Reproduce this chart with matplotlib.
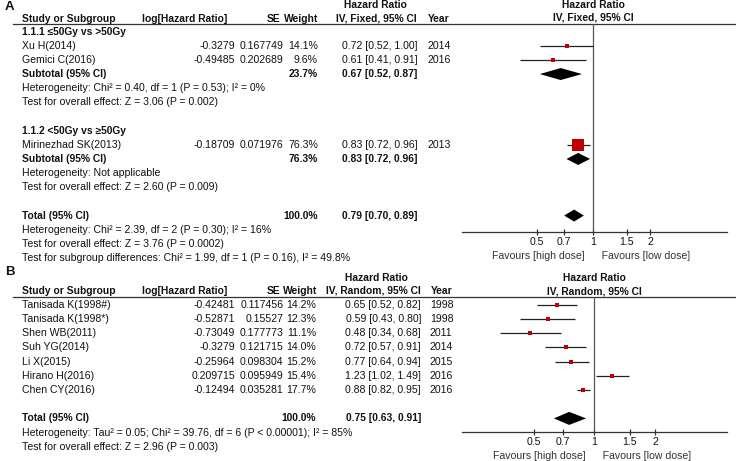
import numpy as np
import matplotlib
matplotlib.use("Agg")
import matplotlib.pyplot as plt
from matplotlib.patches import Polygon

plt.rcParams['font.family'] = ['Liberation Sans', 'DejaVu Sans']

# ---- panel A data ----
a1_names = ["Xu H(2014)", "Gemici C(2016)"]
a1_loghr = ["-0.3279", "-0.49485"]
a1_se = ["0.167749", "0.202689"]
a1_weight = [14.1, 9.6]
a1_hr = [0.72, 0.61]
a1_lo = [0.52, 0.41]
a1_hi = [1.00, 0.91]
a1_year = ["2014", "2016"]
a1_sub = (23.7, 0.67, 0.52, 0.87)

a2_names = ["Mirinezhad SK(2013)"]
a2_loghr = ["-0.18709"]
a2_se = ["0.071976"]
a2_weight = [76.3]
a2_hr = [0.83]
a2_lo = [0.72]
a2_hi = [0.96]
a2_year = ["2013"]
a2_sub = (76.3, 0.83, 0.72, 0.96)

a_total = (100.0, 0.79, 0.70, 0.89)

# ---- panel B data ----
b_names = ["Tanisada K(1998#)", "Tanisada K(1998*)", "Shen WB(2011)", "Suh YG(2014)",
           "Li X(2015)", "Hirano H(2016)", "Chen CY(2016)"]
b_loghr = ["-0.42481", "-0.52871", "-0.73049", "-0.3279", "-0.25964", "0.209715", "-0.12494"]
b_se = ["0.117456", "0.15527", "0.177773", "0.121715", "0.098304", "0.095949", "0.035281"]
b_weight = [14.2, 12.3, 11.1, 14.0, 15.2, 15.4, 17.7]
b_hr = [0.65, 0.59, 0.48, 0.72, 0.77, 1.23, 0.88]
b_lo = [0.52, 0.43, 0.34, 0.57, 0.64, 1.02, 0.82]
b_hi = [0.82, 0.80, 0.68, 0.91, 0.94, 1.49, 0.95]
b_year = ["1998", "1998", "2011", "2014", "2015", "2016", "2016"]
b_total = (100.0, 0.75, 0.63, 0.91)

ticks = [0.5, 0.7, 1, 1.5, 2]
tick_labels = ["0.5", "0.7", "1", "1.5", "2"]

W, H = 736, 461
FS = 7.6
FSB = 7.4
TXT = '#111111'
RED = '#c00000'

fig = plt.figure(figsize=(W / 100, H / 100), dpi=100)
tx = fig.add_axes([0, 0, 1, 1])
tx.set_xlim(0, W)
tx.set_ylim(H, 0)
tx.axis('off')


def t(x, y, s, ha='left', bold=False, size=None):
    if size is None:
        size = FSB if bold else FS
    tx.text(x, y, s, ha=ha, va='center', fontsize=size, color=TXT,
            fontweight='bold' if bold else 'normal')


def forest_axes(x0, x1, y_top, y_axis, xlim):
    ax = fig.add_axes([x0 / W, 1 - y_axis / H, (x1 - x0) / W, (y_axis - y_top) / H])
    ax.set_facecolor('none')
    ax.set_xscale('log')
    ax.set_xlim(*xlim)
    ax.set_ylim(y_axis, y_top)
    for s in ['top', 'left', 'right']:
        ax.spines[s].set_visible(False)
    ax.spines['bottom'].set_color('#333333')
    ax.spines['bottom'].set_linewidth(0.9)
    ax.set_yticks([])
    ax.set_xticks(ticks)
    ax.set_xticklabels(tick_labels)
    ax.minorticks_off()
    ax.tick_params(axis='x', direction='inout', length=5, width=0.9, color='#333333',
                   pad=1.5, labelsize=FS, labelcolor=TXT)
    ax.axvline(1, color='#555555', lw=0.9)
    ax.text(1, y_axis + 24, "Favours [high dose]   ", ha='right', va='center',
            fontsize=FS, color='#333333')
    ax.text(1, y_axis + 24, "   Favours [low dose]", ha='left', va='center',
            fontsize=FS, color='#333333')
    return ax


def study(ax, y, hr, lo, hi, w, min_px):
    ax.plot([lo, hi], [y, y], color='#222222', lw=0.9, solid_capstyle='butt', zorder=2)
    side = max(min_px, 15.5 * w / 100)
    ax.plot([hr], [y], marker='s', ms=side * 0.72, color=RED, mew=0, zorder=3)


def diamond(ax, y, hr, lo, hi, h=6):
    ax.add_patch(Polygon([(lo, y), (hr, y - h), (hi, y), (hr, y + h)],
                         closed=True, color='black', lw=0, zorder=3))


def ci(hr, lo, hi):
    return f"{hr:.2f} [{lo:.2f}, {hi:.2f}]"


def study_row(y, name, loghr, se, w, hr, lo, hi, year, w_r, ci_r, yr_l):
    t(22, y, name)
    t(235, y, loghr, ha='right')
    t(283.5, y, se, ha='right')
    t(w_r, y, f"{w:.1f}%", ha='right')
    t(ci_r, y, ci(hr, lo, hi), ha='right')
    t(yr_l, y, year)


def total_row(y, label, vals, w_r, ci_r):
    t(22, y, label, bold=True)
    t(w_r, y, f"{vals[0]:.1f}%", ha='right', bold=True)
    t(ci_r, y, ci(*vals[1:]), ha='right', bold=True)


# ================= Panel A =================
t(5, 7, "A", bold=True, size=9.5)
t(375, 5.5, "Hazard Ratio", ha='center', bold=True)
t(22, 18.5, "Study or Subgroup", bold=True)
t(141.7, 18.5, "log[Hazard Ratio]", bold=True)
t(280, 18.5, "SE", ha='right', bold=True)
t(318, 18.5, "Weight", ha='right', bold=True)
t(376, 18.5, "IV, Fixed, 95% CI", ha='center', bold=True)
t(428, 18.5, "Year", bold=True)
tx.plot([13, W], [24.3, 24.3], color='#333333', lw=0.9)

axA = forest_axes(461.7, 726.7, 24.3, 231.7, (0.2, 5.1))
axA.text(1, 5.5, "Hazard Ratio", ha='center', va='center', fontsize=FSB,
         fontweight='bold', color=TXT)
axA.text(1, 17.5, "IV, Fixed, 95% CI", ha='center', va='center', fontsize=FSB,
         fontweight='bold', color=TXT)

y0, step = 31.6, 14.15


def rowA(k):
    return y0 + step * k


# subgroup 1.1.1
t(22, rowA(0), "1.1.1 ≤50Gy vs >50Gy", bold=True)
for i in range(len(a1_names)):
    y = rowA(1 + i)
    study_row(y, a1_names[i], a1_loghr[i], a1_se[i], a1_weight[i],
              a1_hr[i], a1_lo[i], a1_hi[i], a1_year[i], 318, 417.5, 427)
    study(axA, y, a1_hr[i], a1_lo[i], a1_hi[i], a1_weight[i], 3.6)
y = rowA(3)
total_row(y, "Subtotal (95% CI)", a1_sub, 318, 417.5)
diamond(axA, y, *a1_sub[1:])
t(22, rowA(4), "Heterogeneity: Chi² = 0.40, df = 1 (P = 0.53); I² = 0%")
t(22, rowA(5), "Test for overall effect: Z = 3.06 (P = 0.002)")

# subgroup 1.1.2
t(22, rowA(7), "1.1.2 <50Gy vs ≥50Gy", bold=True)
for i in range(len(a2_names)):
    y = rowA(8 + i)
    study_row(y, a2_names[i], a2_loghr[i], a2_se[i], a2_weight[i],
              a2_hr[i], a2_lo[i], a2_hi[i], a2_year[i], 318, 417.5, 427)
    study(axA, y, a2_hr[i], a2_lo[i], a2_hi[i], a2_weight[i], 3.6)
y = rowA(9)
total_row(y, "Subtotal (95% CI)", a2_sub, 318, 417.5)
diamond(axA, y, *a2_sub[1:])
t(22, rowA(10), "Heterogeneity: Not applicable")
t(22, rowA(11), "Test for overall effect: Z = 2.60 (P = 0.009)")

y = rowA(13)
total_row(y, "Total (95% CI)", a_total, 318, 417.5)
diamond(axA, y, *a_total[1:])
t(22, rowA(14), "Heterogeneity: Chi² = 2.39, df = 2 (P = 0.30); I² = 16%")
t(22, rowA(15), "Test for overall effect: Z = 3.76 (P = 0.0002)")
t(22, rowA(16), "Test for subgroup differences: Chi² = 1.99, df = 1 (P = 0.16), I² = 49.8%")

# ================= Panel B =================
t(5, 271.5, "B", bold=True, size=9.5)
t(376, 277.5, "Hazard Ratio", ha='center', bold=True)
t(22, 290.5, "Study or Subgroup", bold=True)
t(141.7, 290.5, "log[Hazard Ratio]", bold=True)
t(280, 290.5, "SE", ha='right', bold=True)
t(317, 290.5, "Weight", ha='right', bold=True)
t(421, 290.5, "IV, Random, 95% CI", ha='right', bold=True)
t(431, 290.5, "Year", bold=True)
tx.plot([13, W], [296.7, 296.7], color='#333333', lw=0.9)

axB = forest_axes(461.7, 726.7, 296.7, 431.7, (0.22, 4.53))
axB.text(1, 277.5, "Hazard Ratio", ha='center', va='center', fontsize=FSB,
         fontweight='bold', color=TXT)
axB.text(1, 291, "IV, Random, 95% CI", ha='center', va='center', fontsize=FSB,
         fontweight='bold', color=TXT)

yb0, stepb = 304.8, 14.2
for i in range(len(b_names)):
    y = yb0 + stepb * i
    study_row(y, b_names[i], b_loghr[i], b_se[i], b_weight[i],
              b_hr[i], b_lo[i], b_hi[i], b_year[i], 316, 421, 430)
    study(axB, y, b_hr[i], b_lo[i], b_hi[i], b_weight[i], 4.0)

y = yb0 + stepb * 8
total_row(y, "Total (95% CI)", b_total, 316, 421)
diamond(axB, y, *b_total[1:], h=6.5)
t(22, yb0 + stepb * 9, "Heterogeneity: Tau² = 0.05; Chi² = 39.76, df = 6 (P < 0.00001); I² = 85%")
t(22, yb0 + stepb * 10, "Test for overall effect: Z = 2.96 (P = 0.003)")

fig.savefig("out.png", dpi=100)
